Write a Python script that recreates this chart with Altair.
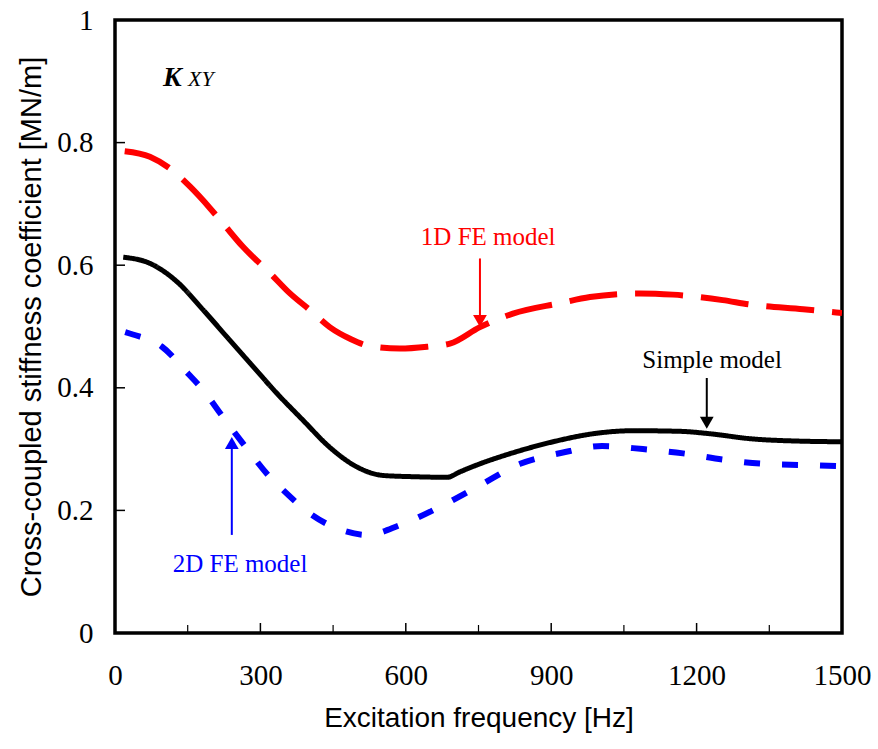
import altair as alt
import pandas as pd

# ---- data ----
freq_1d = [20, 72, 113, 155, 196, 223, 264, 320, 361, 402, 443, 485, 526, 588, 644, 691,
           753, 821, 918, 980, 1083, 1151, 1254, 1310, 1420, 1500]
k_1d = [0.786, 0.777, 0.758, 0.728, 0.693, 0.668, 0.630, 0.587, 0.554, 0.527, 0.499, 0.480,
        0.468, 0.464, 0.467, 0.472, 0.499, 0.521, 0.538, 0.548, 0.554, 0.552, 0.543, 0.536,
        0.528, 0.522]

freq_simple = [17, 72, 128, 182, 231, 279, 334, 388, 443, 499, 553, 615, 685, 712, 753, 821,
               904, 986, 1069, 1166, 1228, 1310, 1413, 1500]
k_simple = [0.613, 0.603, 0.573, 0.527, 0.483, 0.440, 0.391, 0.347, 0.303, 0.271, 0.257,
            0.255, 0.254, 0.263, 0.276, 0.294, 0.312, 0.325, 0.330, 0.329, 0.325, 0.317,
            0.313, 0.312]

freq_2d = [21, 37, 97, 151, 179, 223, 272, 320, 347, 402, 471, 520, 588, 671, 753, 836, 922,
           1005, 1089, 1172, 1254, 1337, 1420, 1500]
k_2d = [0.491, 0.487, 0.467, 0.423, 0.399, 0.352, 0.301, 0.254, 0.233, 0.195, 0.167, 0.160,
        0.176, 0.206, 0.241, 0.276, 0.294, 0.305, 0.300, 0.293, 0.283, 0.276, 0.274, 0.272]

x_major = [0, 300, 600, 900, 1200, 1500]
x_minor = [150, 450, 750, 1050, 1350]
y_ticks = [0, 0.2, 0.4, 0.6, 0.8, 1.0]

ann_labels = ["1D FE model", "Simple model", "2D FE model"]
ann_colors = ["#FF0000", "#000000", "#0000FF"]
ann_text_x = [770, 1232, 258]
ann_text_y = [0.633, 0.433, 0.099]
arrow_x = [753, 1221, 241]
arrow_tail = [0.611, 0.416, 0.160]
arrow_tip = [0.497, 0.331, 0.322]

W, H = 727, 613
SERIF = "Liberation Serif"
SANS = "Liberation Sans"

xs = alt.Scale(domain=[0, 1500], nice=False, zero=False)
ys = alt.Scale(domain=[0, 1], nice=False)

xaxis = alt.Axis(values=x_major, format="d", title="Excitation frequency [Hz]", labelFont=SERIF,
                 labelFontSize=29, labelColor="black", ticks=False, domain=False,
                 grid=False, labelPadding=28, titleFont=SANS, titleFontSize=28,
                 titleFontWeight="normal", titleColor="black", titlePadding=14,
                 labelFlush=False)
yaxis = alt.Axis(values=y_ticks, format="~g", title="Cross-coupled stiffness coefficient [MN/m]",
                 labelFont=SERIF, labelFontSize=29, labelColor="black", ticks=False,
                 domain=False, grid=False, labelPadding=22, titleFont=SANS,
                 titleFontSize=29, titleFontWeight="normal", titleColor="black",
                 titlePadding=10, labelFlush=False)


def line_layer(f, k, color, width, dash):
    df = pd.DataFrame({"f": f, "k": k})
    return alt.Chart(df).mark_line(color=color, strokeWidth=width, strokeDash=dash,
                                   interpolate="monotone", clip=True).encode(
        x=alt.X("f:Q", scale=xs, axis=xaxis),
        y=alt.Y("k:Q", scale=ys, axis=yaxis),
    )


red = line_layer(freq_1d, k_1d, "#FF0000", 6, [48, 18])
black = line_layer(freq_simple, k_simple, "#000000", 5, [1, 0])
blue = line_layer(freq_2d, k_2d, "#0000FF", 6, [16, 22])

# inward ticks
xmaj = alt.Chart(pd.DataFrame({"t": x_major})).mark_rule(color="black", strokeWidth=1.5).encode(
    x=alt.X("t:Q", scale=xs), y=alt.value(H), y2=alt.value(H - 10))
xmin = alt.Chart(pd.DataFrame({"t": x_minor})).mark_rule(color="black", strokeWidth=1.2).encode(
    x=alt.X("t:Q", scale=xs), y=alt.value(H), y2=alt.value(H - 8))
ytk = alt.Chart(pd.DataFrame({"t": y_ticks})).mark_rule(color="black", strokeWidth=1.5).encode(
    y=alt.Y("t:Q", scale=ys), x=alt.value(0), x2=alt.value(10))

ann = pd.DataFrame({"label": ann_labels, "color": ann_colors, "tx": ann_text_x,
                    "ty": ann_text_y, "ax": arrow_x, "a0": arrow_tail, "a1": arrow_tip})
ann["dir"] = ["down" if a1 < a0 else "up" for a0, a1 in zip(ann["a0"], ann["a1"])]
ann["head"] = [a1 + (0.012 if d == "down" else -0.012) for a1, d in zip(ann["a1"], ann["dir"])]
ann["shape"] = ["triangle-down" if d == "down" else "triangle-up" for d in ann["dir"]]

texts = alt.Chart(ann).mark_text(font=SERIF, fontSize=25, align="center",
                                 baseline="alphabetic").encode(
    x=alt.X("tx:Q", scale=xs), y=alt.Y("ty:Q", scale=ys), text="label:N",
    color=alt.Color("color:N", scale=None))
shafts = alt.Chart(ann).mark_rule(strokeWidth=2).encode(
    x=alt.X("ax:Q", scale=xs), y=alt.Y("a0:Q", scale=ys), y2="head:Q",
    color=alt.Color("color:N", scale=None))
heads = alt.Chart(ann).mark_point(filled=True, size=190, opacity=1).encode(
    x=alt.X("ax:Q", scale=xs), y=alt.Y("head:Q", scale=ys),
    shape=alt.Shape("shape:N", scale=None),
    color=alt.Color("color:N", scale=None))

kxy = pd.DataFrame({"f": [99], "k": [0.892]})
ktext = alt.Chart(kxy).mark_text(text="K", font=SERIF, fontSize=28, fontStyle="italic",
                                 fontWeight="bold", align="left", baseline="alphabetic",
                                 color="black").encode(
    x=alt.X("f:Q", scale=xs), y=alt.Y("k:Q", scale=ys))
xytext = alt.Chart(kxy).mark_text(text="XY", font=SERIF, fontSize=22, fontStyle="italic",
                                  align="left", baseline="alphabetic", dx=25,
                                  color="black").encode(
    x=alt.X("f:Q", scale=xs), y=alt.Y("k:Q", scale=ys))

chart = alt.layer(red, black, blue, xmaj, xmin, ytk, shafts, heads, texts, ktext, xytext).properties(
    width=W, height=H,
    autosize=alt.AutoSizeParams(type="none"),
    padding={"left": 115, "top": 20, "right": 36, "bottom": 116},
    background="white",
).configure_view(stroke="black", strokeWidth=3.5)

chart.save("out.html", embed_options={"renderer": "svg", "actions": False})
